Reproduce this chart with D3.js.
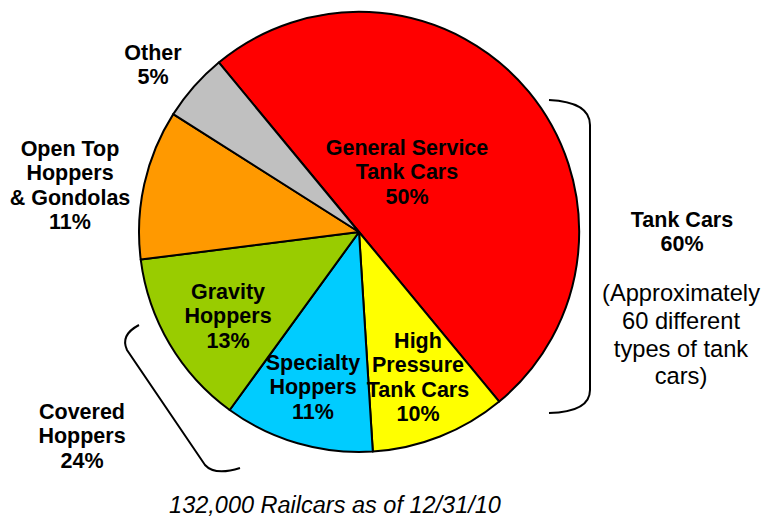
<!DOCTYPE html>
<html>
<head>
<meta charset="utf-8">
<script src="https://cdn.jsdelivr.net/npm/d3@7"></script>
<style>
  body { margin: 0; background: #fff; }
  svg { display: block; font-family: "Liberation Sans", Arial, sans-serif; }
</style>
</head>
<body>
<svg width="765" height="518"></svg>
<script>
const categories = ["General Service Tank Cars", "High Pressure Tank Cars", "Specialty Hoppers", "Gravity Hoppers", "Open Top Hoppers & Gondolas", "Other"];
const shares = [50, 10, 11, 13, 11, 5];
const colors = ["#ff0000", "#ffff00", "#00ccff", "#99cc00", "#ff9900", "#c0c0c0"];
const sliceLabels = [
  ["General Service", "Tank Cars", "50%"],
  ["High", "Pressure", "Tank Cars", "10%"],
  ["Specialty", "Hoppers", "11%"],
  ["Gravity", "Hoppers", "13%"],
  ["Open Top", "Hoppers", "& Gondolas", "11%"],
  ["Other", "5%"],
];
const groupTitles = [["Tank Cars", "60%"], ["Covered", "Hoppers", "24%"]];
const tankNote = ["(Approximately", "60 different", "types of tank", "cars)"];
const footnote = "132,000 Railcars as of 12/31/10";

// layout
const cx = 359, cy = 232, radius = 220;
const startAngle = -39.6 * Math.PI / 180;
// label centres (first line), per slice
const labelAt = [[407, 147], [418, 340], [313, 362], [228, 291], [70, 148], [153, 52]];
const lineH = 24.5;

const svg = d3.select("svg");

const pie = d3.pie().sort(null).value((d) => d)
  .startAngle(startAngle).endAngle(startAngle + 2 * Math.PI);
const arc = d3.arc().innerRadius(0).outerRadius(radius);

const g = svg.append("g").attr("transform", `translate(${cx},${cy})`);
g.selectAll("path")
  .data(pie(shares))
  .join("path")
  .attr("d", arc)
  .attr("fill", (d, i) => colors[i])
  .attr("stroke", "#000")
  .attr("stroke-width", 2)
  .style("stroke-linejoin", "round");

function block(lines, x, y, opts) {
  const t = svg.append("text")
    .attr("text-anchor", "middle")
    .attr("font-size", opts.size)
    .attr("font-weight", opts.bold ? "bold" : "normal")
    .attr("fill", "#000");
  lines.forEach((s, k) => {
    t.append("tspan").attr("x", x).attr("y", y + k * opts.lh)
      .attr("dy", "0.35em").text(s);
  });
}

sliceLabels.forEach((lines, i) => {
  block(lines, labelAt[i][0], labelAt[i][1], { size: 21.5, bold: true, lh: lineH });
});

block(groupTitles[0], 682, 219, { size: 21.5, bold: true, lh: lineH });
block(groupTitles[1], 82, 411, { size: 21.5, bold: true, lh: lineH });
block(tankNote, 681, 293, { size: 23.7, bold: false, lh: 27.7 });

svg.append("text")
  .attr("x", 335).attr("y", 505).attr("dy", "0.35em")
  .attr("text-anchor", "middle")
  .attr("font-size", 23.5).attr("font-style", "italic")
  .text(footnote);

// brackets
const bracket = svg.append("g").attr("fill", "none").attr("stroke", "#000").attr("stroke-width", 2);
bracket.append("path")
  .attr("d", "M549,100 Q590,102 590,125 L590,390 Q590,412 549,413");
bracket.append("path")
  .attr("d", "M139,325 Q120,335 127,350 L205,465 Q215,476 240,468");
</script>
</body>
</html>
